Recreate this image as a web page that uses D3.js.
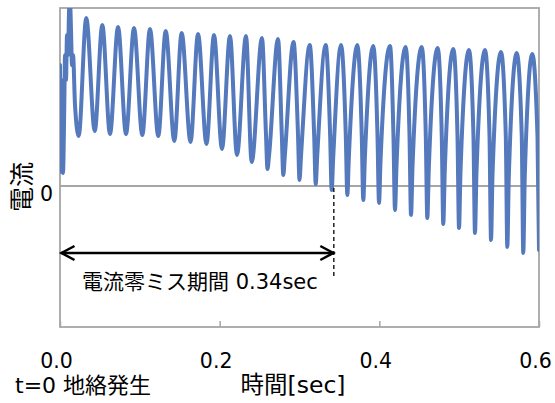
<!DOCTYPE html>
<html><head><meta charset="utf-8">
<script src="https://cdn.jsdelivr.net/npm/d3@7"></script>
<style>body{margin:0;background:#fff}svg{display:block}</style>
</head><body><svg id="c" width="555" height="403"></svg>
<script>
// ---- data (time in sec, current in relative units) ----
const xTicks = [0.0, 0.2, 0.4, 0.6];
const xTickLabels = ["0.0", "0.2", "0.4", "0.6"];
const yTicks = [0];
const yTickLabels = ["0"];

// initial transient just after the fault
const startT = [0.0000, 0.00075, 0.0015, 0.00225, 0.0030, 0.00376, 0.0053, 0.0063, 0.0075, 0.0088, 0.0100, 0.0113, 0.0138, 0.0150, 0.0163, 0.0188];
const startV = [1.21, 0.16, 1.06, 0.14, 0.66, 0.13, 0.76, 1.31, 1.06, 1.51, 1.31, 1.74, 1.56, 1.21, 1.31, 0.81];

const peakT = [0.0125, 0.0329, 0.0530, 0.0727, 0.0927, 0.1127, 0.1324, 0.1524, 0.1729, 0.1929,
               0.2129, 0.2330, 0.2530, 0.2731, 0.2925, 0.3128, 0.3328, 0.3520, 0.3724, 0.3924,
               0.4134, 0.4330, 0.4531, 0.4731, 0.4927, 0.5123, 0.5324, 0.5524, 0.5721, 0.5916];
const peakV = [1.86, 1.68, 1.61, 1.59, 1.58, 1.57, 1.55, 1.53, 1.52, 1.51,
               1.50, 1.50, 1.48, 1.47, 1.44, 1.41, 1.41, 1.41, 1.41, 1.40,
               1.40, 1.39, 1.39, 1.38, 1.37, 1.36, 1.36, 1.34, 1.33, 1.32];

const troughT = [0.0234, 0.0435, 0.0626, 0.0827, 0.1031, 0.1231, 0.1432, 0.1635, 0.1835, 0.2029,
                 0.2217, 0.2401, 0.2599, 0.2797, 0.3000, 0.3203, 0.3403, 0.3599, 0.3799, 0.3996,
                 0.4196, 0.4397, 0.4601, 0.4801, 0.4998, 0.5198, 0.5399, 0.5603, 0.5803, 0.6000];
const troughV = [0.50, 0.55, 0.52, 0.52, 0.51, 0.50, 0.45, 0.44, 0.42, 0.37,
                 0.31, 0.24, 0.17, 0.11, 0.06, 0.02, -0.04, -0.09, -0.14, -0.17,
                 -0.24, -0.29, -0.32, -0.38, -0.42, -0.47, -0.54, -0.61, -0.67, -0.64];

// knee points on either side of the narrow current spikes
const kneeDownT = [0.2580, 0.2778, 0.2981, 0.3184, 0.3384, 0.3580, 0.3780, 0.3977, 0.4177, 0.4378,
                   0.4582, 0.4782, 0.4979, 0.5179, 0.5380, 0.5584, 0.5784, 0.5981];
const kneeDownV = [0.52, 0.52, 0.52, 0.50, 0.50, 0.50, 0.50, 0.50, 0.50, 0.50,
                   0.50, 0.50, 0.50, 0.50, 0.50, 0.50, 0.50, 0.50];
const kneeUpT = [0.2618, 0.2816, 0.3019, 0.3222, 0.3422, 0.3618, 0.3818, 0.4015, 0.4215, 0.4416,
                 0.4620, 0.4820, 0.5017, 0.5217, 0.5418, 0.5622, 0.5822];
const kneeUpV = [0.30, 0.30, 0.30, 0.30, 0.28, 0.28, 0.26, 0.25, 0.20, 0.20,
                 0.18, 0.16, 0.15, 0.14, 0.12, 0.10, 0.10];

const zeroMissEnd = 0.343;
const annotationText = "電流零ミス期間 0.34sec";
const xTitle = "時間[sec]";
const yTitle = "電流";
const faultLabel = "t=0 地絡発生";

// ---- layout ----
const L = 60, R = 539, T = 8, B = 327;
const FONT = "'DejaVu Sans', 'Noto Sans CJK JP', sans-serif";
const grey = "#a6a6a6";
const blue = "#5479bc";

const svg = d3.select("#c");
const x = d3.scaleLinear().domain([0, 0.6]).range([L, R]);
const y = d3.scaleLinear().domain([-1.41, 1.78]).range([B, T]);

const pts = [];
startT.forEach((t, i) => pts.push([t, startV[i]]));
peakT.forEach((t, i) => pts.push([t, peakV[i]]));
troughT.forEach((t, i) => pts.push([t, troughV[i]]));
kneeDownT.forEach((t, i) => pts.push([t, kneeDownV[i]]));
kneeUpT.forEach((t, i) => pts.push([t, kneeUpV[i]]));
pts.sort((a, b) => a[0] - b[0]);

svg.append("defs").append("clipPath").attr("id", "clip")
  .append("rect").attr("x", L).attr("y", T).attr("width", R - L).attr("height", B - T);

svg.append("line").attr("x1", L).attr("x2", R).attr("y1", y(0)).attr("y2", y(0))
  .attr("stroke", grey).attr("stroke-width", 2);

svg.append("rect").attr("x", L).attr("y", T).attr("width", R - L).attr("height", B - T)
  .attr("fill", "none").attr("stroke", grey).attr("stroke-width", 1.8);

const xa = svg.append("g").attr("transform", `translate(0,${B})`)
  .call(d3.axisBottom(x).tickValues(xTicks).tickSize(-6).tickPadding(26)
    .tickFormat((d, i) => xTickLabels[i]));
xa.select(".domain").remove();
xa.selectAll(".tick line").attr("stroke", grey).attr("stroke-width", 1.5);
xa.selectAll(".tick text").attr("font-family", FONT).attr("font-size", 20.5)
  .attr("fill", "#000").attr("dx", -4);

const ya = svg.append("g").attr("transform", `translate(${L},0)`)
  .call(d3.axisLeft(y).tickValues(yTicks).tickSize(0).tickPadding(7)
    .tickFormat((d, i) => yTickLabels[i]));
ya.select(".domain").remove();
ya.selectAll(".tick text").attr("font-family", FONT).attr("font-size", 20.5)
  .attr("fill", "#000").attr("dy", "0.7em");

const line = d3.line().x(d => x(d[0])).y(d => y(d[1])).curve(d3.curveMonotoneX);
svg.append("path").datum(pts).attr("d", line).attr("clip-path", "url(#clip)")
  .attr("fill", "none").attr("stroke", blue).attr("stroke-width", 4)
  .attr("stroke-linejoin", "round").attr("stroke-linecap", "round");

const arrowY = y(-0.67);
svg.append("line").attr("x1", x(zeroMissEnd)).attr("x2", x(zeroMissEnd))
  .attr("y1", y(0) + 2).attr("y2", y(-0.92))
  .attr("stroke", "#000").attr("stroke-width", 1.3).attr("stroke-dasharray", "4,3");
svg.append("line").attr("x1", x(0) + 1).attr("x2", x(zeroMissEnd))
  .attr("y1", arrowY).attr("y2", arrowY).attr("stroke", "#000").attr("stroke-width", 2.5);
const x0 = x(0) + 1.5, x1 = x(zeroMissEnd) - 0.5;
svg.append("path").attr("d", `M${x0 + 13},${arrowY - 7}L${x0},${arrowY}L${x0 + 13},${arrowY + 7}`)
  .attr("fill", "none").attr("stroke", "#000").attr("stroke-width", 2.5);
svg.append("path").attr("d", `M${x1 - 13},${arrowY - 7}L${x1},${arrowY}L${x1 - 13},${arrowY + 7}`)
  .attr("fill", "none").attr("stroke", "#000").attr("stroke-width", 2.5);
svg.append("text").attr("x", 82).attr("y", y(-1.03)).text(annotationText)
  .attr("font-family", FONT).attr("font-size", 21).attr("fill", "#000");

svg.append("text").attr("x", 293).attr("y", 393).attr("text-anchor", "middle").text(xTitle)
  .attr("font-family", FONT).attr("font-size", 23.5).attr("fill", "#000");
svg.append("text").attr("x", 15).attr("y", 393).text(faultLabel)
  .attr("font-family", FONT).attr("font-size", 22).attr("fill", "#000");
svg.append("text").attr("transform", `translate(31,${y(0) + 1}) rotate(-90)`)
  .attr("text-anchor", "middle").text(yTitle)
  .attr("font-family", FONT).attr("font-size", 25).attr("fill", "#000");
</script></body></html>
